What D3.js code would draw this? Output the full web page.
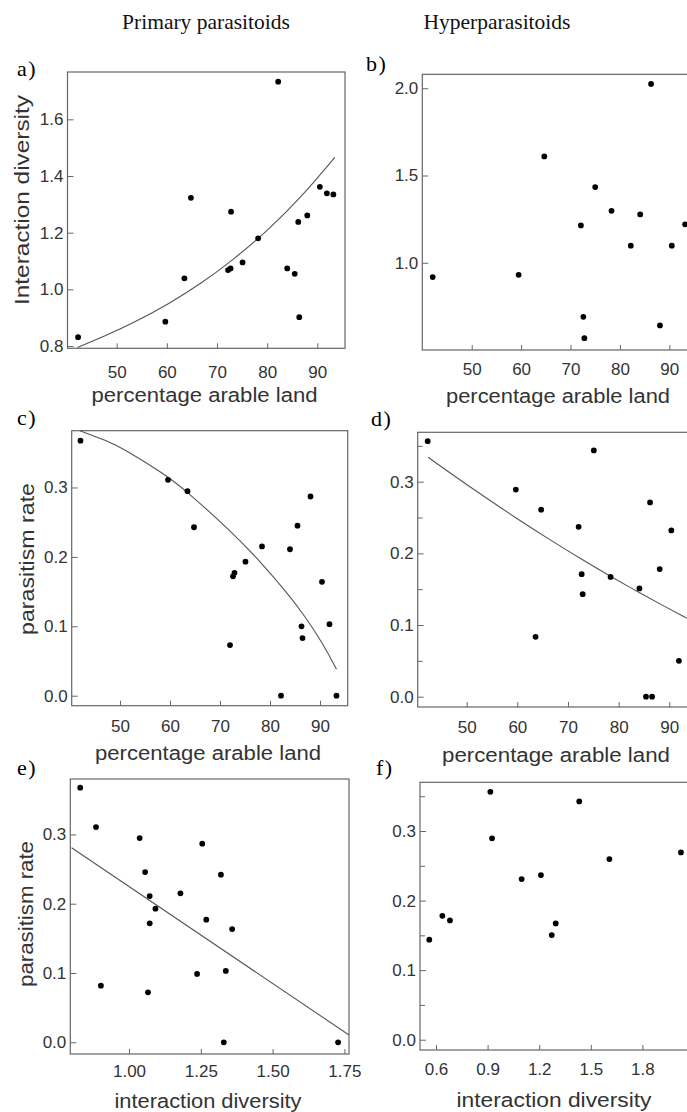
<!DOCTYPE html>
<html>
<head>
<meta charset="utf-8">
<script src="https://cdn.jsdelivr.net/npm/d3@7"></script>
<style>
  html, body { margin: 0; padding: 0; background: #fff; overflow: hidden; }
  svg { display: block; }
  .tick text { font-family: "Liberation Sans", Arial, sans-serif; font-size: 17px; fill: #333; }
  .tick line { stroke: #666; }
</style>
</head>
<body>
<svg id="chart" width="687" height="1112"></svg>
<script>
// ---------- DATA ----------
// a) primary parasitoids: interaction diversity vs % arable land
const pctLandA   = [42.3,59.7,63.5,64.8,72.2,72.7,72.8,75.1,78.2,82.2,84.0,85.5,86.2,86.4,88.0,90.5,91.9,93.2];
const diversityA = [0.831,0.886,1.039,1.323,1.068,1.074,1.274,1.095,1.18,1.733,1.074,1.055,1.238,0.902,1.261,1.362,1.339,1.335];
const fitAx = [42.2,46.9,53.5,60.2,66.9,73.5,80.2,86.9,93.5];
const fitAy = [0.795,0.829,0.883,0.947,1.021,1.108,1.209,1.327,1.466];

// b) hyperparasitoids: interaction diversity vs % arable land
const pctLandB   = [42.1,59.5,64.7,72.1,72.6,72.8,75.0,78.3,82.2,84.1,86.3,88.1,90.5,93.2];
const diversityB = [0.918,0.931,1.609,1.214,0.69,0.568,1.434,1.298,1.098,1.277,2.025,0.641,1.098,1.22];

// c) primary parasitoids: parasitism rate vs % arable land
const pctLandC    = [42.1,59.6,63.5,64.8,72.0,72.6,72.9,75.1,78.4,82.2,84.0,85.5,86.3,86.5,88.1,90.4,91.9,93.3];
const parasitismC = [0.3675,0.311,0.2947,0.2427,0.073,0.172,0.177,0.193,0.215,0.0,0.211,0.245,0.1,0.083,0.287,0.164,0.103,0.0];
const fitCx = [42.0,47.3,50.7,59.3,63.3,72.0,78.0,83.3,86.7,90.7,93.3];
const fitCy = [0.3817,0.3674,0.3560,0.3175,0.2945,0.2385,0.1940,0.1490,0.1175,0.0740,0.0380];

// d) hyperparasitoids: parasitism rate vs % arable land
const pctLandD    = [42.3,59.7,63.6,64.7,72.1,72.7,72.9,75.1,78.4,84.1,85.4,86.2,86.6,88.1,90.4,91.9];
const parasitismD = [0.3565,0.289,0.0836,0.261,0.237,0.171,0.143,0.3436,0.167,0.151,0.0,0.271,0.0,0.178,0.232,0.05];
const fitDx = [42.4,46.8,53.4,59.9,66.5,73.1,78.4,83.6,88.9,93.5];
const fitDy = [0.334,0.3117,0.2793,0.2486,0.2186,0.1900,0.1679,0.1470,0.1265,0.1094];

// e) primary parasitoids: parasitism rate vs interaction diversity
const diversityE  = [0.830,0.885,0.902,1.037,1.056,1.066,1.072,1.072,1.092,1.179,1.237,1.255,1.269,1.320,1.330,1.337,1.359,1.728];
const parasitismE = [0.3674,0.3107,0.0817,0.2948,0.2457,0.0722,0.211,0.1717,0.1928,0.215,0.0986,0.2866,0.177,0.2419,0.0,0.1029,0.1635,0.0];
const fitEx = [0.80,1.766];
const fitEy = [0.2808,0.0105];

// f) hyperparasitoids: parasitism rate vs interaction diversity
const diversityF  = [0.561,0.637,0.681,0.916,0.926,1.098,1.21,1.273,1.296,1.433,1.608,2.024];
const parasitismF = [0.1437,0.178,0.1715,0.3563,0.2894,0.2309,0.2366,0.1504,0.1672,0.3425,0.2596,0.2692];

// tick values
const ticksLand = [50,60,70,80,90];
const ticksDivA = [0.8,1.0,1.2,1.4,1.6];
const ticksDivB = [1.0,1.5,2.0];
const ticksRate = [0.0,0.1,0.2,0.3];
const ticksRateMinor = [0.05,0.15,0.25,0.35];
const ticksDivE = [1.00,1.25,1.50,1.75];
const ticksDivF = [0.6,0.9,1.2,1.5,1.8];

const columnTitles = ["Primary parasitoids", "Hyperparasitoids"];
const landTitle = "percentage arable land";
const divTitle = "interaction diversity";

// ---------- LAYOUT ----------
const svg = d3.select("#chart");
const zip = (xs, ys) => xs.map((x, i) => [x, ys[i]]);

const panels = [
  { id: "a)", lab: [17, 76], box: {l:67.5, t:72, r:345, b:348.3},
    xDom: [40.19, 95.52], yDom: [0.792, 1.767], xT: ticksLand, yT: ticksDivA, xF: d3.format("d"), yF: d3.format(".1f"),
    pts: zip(pctLandA, diversityA), fit: zip(fitAx, fitAy), xTitle: landTitle, xTitleY: 402, xTitleX: 204.5, xTitleLen: 226,
    yTitle: "Interaction diversity", yTitleX: 29, yTitleY: 200, yTitleLen: 210, xLabBase: 378 },
  { id: "b)", lab: [366, 71], box: {l:422.3, t:74.3, r:696, b:350},
    xDom: [40.0, 95.4], yDom: [0.5, 2.08], xT: ticksLand, yT: ticksDivB, xF: d3.format("d"), yF: d3.format(".1f"),
    pts: zip(pctLandB, diversityB), fit: null, xTitle: landTitle, xTitleY: 403, xTitleX: 558, xTitleLen: 224, xLabBase: 375 },
  { id: "c)", lab: [17, 425], box: {l:71.7, t:430.7, r:347.7, b:705.7},
    xDom: [40.34, 95.54], yDom: [-0.0144, 0.3818], xT: ticksLand, yT: ticksRate, xF: d3.format("d"), yF: d3.format(".1f"),
    pts: zip(pctLandC, parasitismC), fit: zip(fitCx, fitCy), xTitle: landTitle, xTitleY: 760, xTitleX: 208, xTitleLen: 226,
    yTitle: "parasitism rate", yTitleX: 34, yTitleY: 559, yTitleLen: 152, xLabBase: 732 },
  { id: "d)", lab: [371, 426], box: {l:417.7, t:432.3, r:696, b:707},
    xDom: [40.33, 95.27], yDom: [-0.0144, 0.3689], xT: ticksLand, yT: ticksRate, yMinor: ticksRateMinor, xF: d3.format("d"), yF: d3.format(".1f"),
    pts: zip(pctLandD, parasitismD), fit: zip(fitDx, fitDy), xTitle: landTitle, xTitleY: 762, xTitleX: 556, xTitleLen: 228, xLabBase: 733 },
  { id: "e)", lab: [17, 775], box: {l:70.3, t:779, r:349, b:1054},
    xDom: [0.7955, 1.766], yDom: [-0.0169, 0.38], xT: ticksDivE, yT: ticksRate, xF: d3.format(".2f"), yF: d3.format(".1f"),
    pts: zip(diversityE, parasitismE), fit: zip(fitEx, fitEy), xTitle: divTitle, xTitleY: 1108, xTitleX: 208, xTitleLen: 187,
    yTitle: "parasitism rate", yTitleX: 33, yTitleY: 914, yTitleLen: 146, xLabBase: 1077 },
  { id: "f)", lab: [376, 775], box: {l:420, t:782.3, r:696, b:1050},
    xDom: [0.507, 2.1116], yDom: [-0.0148, 0.37], xT: ticksDivF, yT: ticksRate, yMinor: ticksRateMinor, xF: d3.format(".1f"), yF: d3.format(".1f"),
    pts: zip(diversityF, parasitismF), fit: null, xTitle: divTitle, xTitleY: 1107, xTitleX: 554, xTitleLen: 195, xLabBase: 1075 }
];

// column headers
svg.append("text").attr("x", 206).attr("y", 29).attr("text-anchor", "middle")
  .attr("font-family", "'Liberation Serif', 'Times New Roman', serif").attr("font-size", 21.5).attr("fill", "#111")
  .text(columnTitles[0]);
svg.append("text").attr("x", 497).attr("y", 29).attr("text-anchor", "middle")
  .attr("font-family", "'Liberation Serif', 'Times New Roman', serif").attr("font-size", 21.5).attr("fill", "#111")
  .text(columnTitles[1]);

panels.forEach(p => {
  const b = p.box;
  const x = d3.scaleLinear().domain(p.xDom).range([b.l, b.r]);
  const y = d3.scaleLinear().domain(p.yDom).range([b.b, b.t]);
  const g = svg.append("g");

  // panel letter
  svg.append("text").attr("x", p.lab[0]).attr("y", p.lab[1])
    .attr("font-family", "'Liberation Serif', 'Times New Roman', serif").attr("font-size", 22)
    .attr("letter-spacing", 1.5).attr("fill", "#000").text(p.id);

  // x axis (ticks inside)
  const xg = g.append("g").attr("transform", `translate(0,${b.b})`)
    .call(d3.axisBottom(x).tickValues(p.xT).tickFormat(p.xF).tickSize(-5).tickPadding(0));
  xg.select(".domain").remove();
  xg.selectAll(".tick text").attr("dy", null).attr("y", p.xLabBase - b.b);

  // y axis (ticks inside)
  const yg = g.append("g").attr("transform", `translate(${b.l},0)`)
    .call(d3.axisLeft(y).tickValues(p.yT).tickFormat(p.yF).tickSize(-6).tickPadding(4));
  yg.select(".domain").remove();
  if (p.yMinor) {
    const mg = g.append("g").attr("transform", `translate(${b.l},0)`)
      .call(d3.axisLeft(y).tickValues(p.yMinor).tickFormat("").tickSize(-5));
    mg.select(".domain").remove();
  }

  // frame
  g.append("rect").attr("x", b.l).attr("y", b.t).attr("width", b.r - b.l).attr("height", b.b - b.t)
    .attr("fill", "none").attr("stroke", "#666").attr("stroke-width", 1.2);

  // fit curve
  if (p.fit) {
    g.append("path").datum(p.fit)
      .attr("d", d3.line().x(d => x(d[0])).y(d => y(d[1])).curve(d3.curveBasis))
      .attr("fill", "none").attr("stroke", "#555").attr("stroke-width", 1.1);
  }

  // points
  g.selectAll("path.pt").data(p.pts).join("path").attr("class", "pt")
    .attr("transform", d => `translate(${x(d[0])},${y(d[1])})`)
    .attr("d", d3.symbol(d3.symbolCircle, 26))
    .attr("fill", "#000");

  // axis titles
  svg.append("text").attr("x", p.xTitleX).attr("y", p.xTitleY).attr("text-anchor", "middle")
    .attr("font-family", "'Liberation Sans', Arial, sans-serif").attr("font-size", 20).attr("fill", "#333")
    .attr("textLength", p.xTitleLen).attr("lengthAdjust", "spacingAndGlyphs")
    .text(p.xTitle);
  if (p.yTitle) {
    svg.append("text").attr("transform", `translate(${p.yTitleX},${p.yTitleY}) rotate(-90)`)
      .attr("text-anchor", "middle")
      .attr("font-family", "'Liberation Sans', Arial, sans-serif").attr("font-size", 20).attr("fill", "#333")
      .attr("textLength", p.yTitleLen).attr("lengthAdjust", "spacingAndGlyphs")
      .text(p.yTitle);
  }
});
</script>
</body>
</html>
